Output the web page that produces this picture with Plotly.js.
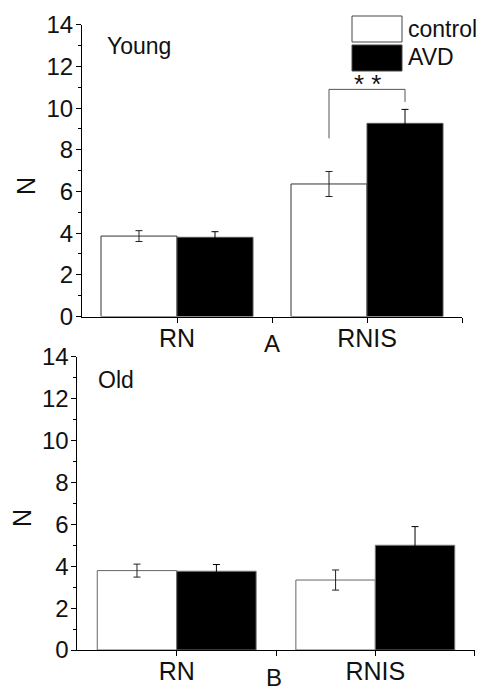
<!DOCTYPE html>
<html>
<head>
<meta charset="utf-8">
<script src="https://cdn.plot.ly/plotly-3.0.1.min.js"></script>
<style>html,body{margin:0;padding:0;background:#fff;}#chart{width:477px;height:691px;}</style>
</head>
<body>
<div id="chart"></div>
<script>
// ---- data ----
const categories = ['RN', 'RNIS'];
const seriesNames = ['control', 'AVD'];
const youngControl = [3.86, 6.36];
const youngControlErr = [0.26, 0.60];
const youngAVD = [3.80, 9.27];
const youngAVDErr = [0.27, 0.67];
const oldControl = [3.79, 3.34];
const oldControlErr = [0.31, 0.48];
const oldAVD = [3.76, 5.00];
const oldAVDErr = [0.32, 0.89];
const yTickVals = [0, 2, 4, 6, 8, 10, 12, 14];
const panelLabels = ['A', 'B'];
const panelTitles = ['Young', 'Old'];
const sigLabel = '* *';
// significance bracket (between RNIS control and RNIS AVD, young)
const sigBracket = {x0: 0.8, x1: 1.2, yTop: 10.9, yLeft: 8.55, yRight: 10.3};

// ---- helpers ----
const W = 477, H = 691;
const px = v => v / W;
const py = v => 1 - v / H;
const FONT = '"Liberation Sans", Arial, Helvetica, sans-serif';
const idx = categories.map((c, i) => i);

function barTrace(vals, errs, name, fill, line, errColor, xa, ya) {
  return {
    type: 'bar', x: idx, y: vals, name: name, xaxis: xa, yaxis: ya,
    marker: {color: fill, line: {color: line, width: 1}},
    error_y: {type: 'data', array: errs, visible: true, color: errColor, thickness: 1, width: 3.5},
    hoverinfo: 'none'
  };
}

const traces = [
  barTrace(youngControl, youngControlErr, seriesNames[0], '#ffffff', '#333', '#222', 'x', 'y'),
  barTrace(youngAVD, youngAVDErr, seriesNames[1], '#000000', '#555', '#000', 'x', 'y'),
  barTrace(oldControl, oldControlErr, seriesNames[0], '#ffffff', '#666', '#222', 'x2', 'y2'),
  barTrace(oldAVD, oldAVDErr, seriesNames[1], '#000000', '#777', '#000', 'x2', 'y2')
];

function xAxis(domain, anchor) {
  return {
    domain: domain, anchor: anchor, range: [-0.5, 1.5],
    tickvals: [0, 0.5, 1, 1.5], ticktext: [categories[0], '', categories[1], ''],
    ticks: 'outside', ticklen: 5, tickwidth: 1, tickcolor: '#000',
    ticklabelstandoff: -6,
    showline: true, linecolor: '#000', linewidth: 1,
    showgrid: false, zeroline: false, fixedrange: true,
    tickfont: {family: FONT, size: 25, color: '#111'}
  };
}
function yAxis(domain, anchor) {
  return {
    domain: domain, anchor: anchor, range: [0, 14],
    tickvals: yTickVals, ticktext: yTickVals.map(String),
    ticks: 'outside', ticklen: 5, tickwidth: 1, tickcolor: '#000',
    ticklabelstandoff: -2,
    minor: {dtick: 1, tick0: 0, ticks: 'outside', ticklen: 3, tickcolor: '#000', tickwidth: 1},
    showline: true, linecolor: '#000', linewidth: 1,
    showgrid: false, zeroline: false, fixedrange: true,
    tickfont: {family: FONT, size: 24, color: '#111'}
  };
}

const annFont = s => ({family: FONT, size: s, color: '#111'});
const annotations = [
  {text: panelTitles[0], xref: 'paper', yref: 'paper', x: px(105), y: py(46), xanchor: 'left', yanchor: 'middle', showarrow: false, font: annFont(23)},
  {text: panelTitles[1], xref: 'paper', yref: 'paper', x: px(96), y: py(380), xanchor: 'left', yanchor: 'middle', showarrow: false, font: annFont(23)},
  {text: panelLabels[0], xref: 'paper', yref: 'paper', x: px(272), y: py(343), xanchor: 'center', yanchor: 'middle', showarrow: false, font: annFont(24)},
  {text: panelLabels[1], xref: 'paper', yref: 'paper', x: px(273.5), y: py(677), xanchor: 'center', yanchor: 'middle', borderpad: 0, showarrow: false, font: annFont(24)},
  {text: 'N', xref: 'paper', yref: 'paper', x: px(26), y: py(186), xanchor: 'center', yanchor: 'middle', textangle: -90, showarrow: false, font: annFont(25)},
  {text: 'N', xref: 'paper', yref: 'paper', x: px(22), y: py(518), xanchor: 'center', yanchor: 'middle', textangle: -90, showarrow: false, font: annFont(25)},
  {text: seriesNames[0], xref: 'paper', yref: 'paper', x: px(406), y: py(29), xanchor: 'left', yanchor: 'middle', showarrow: false, font: annFont(23)},
  {text: seriesNames[1], xref: 'paper', yref: 'paper', x: px(406), y: py(57), xanchor: 'left', yanchor: 'middle', showarrow: false, font: annFont(23)},
  {text: sigLabel, xref: 'x', yref: 'y', x: (sigBracket.x0 + sigBracket.x1) / 2, y: sigBracket.yTop, xanchor: 'center', yanchor: 'middle', yshift: 5, showarrow: false, font: annFont(26)}
];

const shapes = [
  {type: 'rect', xref: 'paper', yref: 'paper', x0: px(352), x1: px(402), y0: py(16), y1: py(42), fillcolor: '#fff', line: {color: '#444', width: 1}},
  {type: 'rect', xref: 'paper', yref: 'paper', x0: px(352), x1: px(402), y0: py(45), y1: py(71), fillcolor: '#000', line: {color: '#444', width: 1}},
  {type: 'path', xref: 'x', yref: 'y',
   path: `M ${sigBracket.x0},${sigBracket.yLeft} L ${sigBracket.x0},${sigBracket.yTop} L ${sigBracket.x1},${sigBracket.yTop} L ${sigBracket.x1},${sigBracket.yRight}`,
   line: {color: '#555', width: 1}}
];

const layout = {
  width: W, height: H,
  margin: {l: 0, r: 0, t: 0, b: 0, pad: 0},
  paper_bgcolor: '#fff', plot_bgcolor: '#fff',
  showlegend: false,
  barmode: 'group', bargap: 0.2, bargroupgap: 0,
  font: {family: FONT, color: '#111'},
  xaxis: xAxis([px(82), px(462)], 'y'),
  yaxis: yAxis([py(316.5), py(24.8)], 'x'),
  xaxis2: xAxis([px(77.4), px(474.6)], 'y2'),
  yaxis2: yAxis([py(650), py(356.7)], 'x2'),
  annotations: annotations,
  shapes: shapes
};

Plotly.newPlot('chart', traces, layout, {displayModeBar: false, staticPlot: true});
</script>
</body>
</html>
